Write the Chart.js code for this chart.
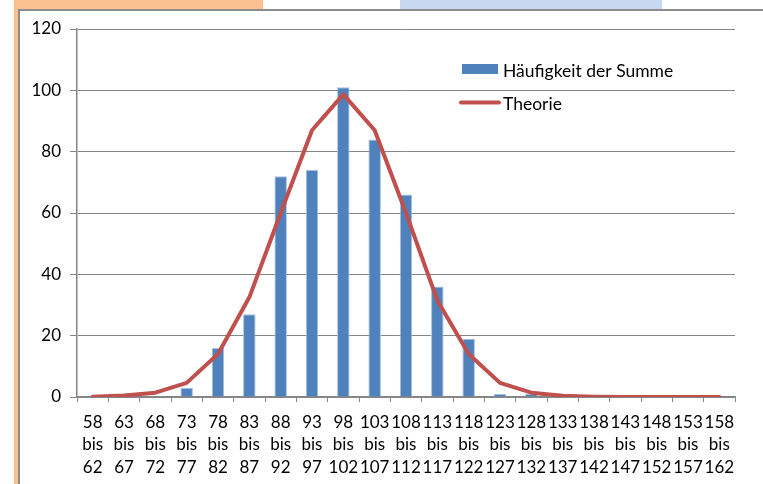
<!DOCTYPE html>
<html>
<head>
<meta charset="utf-8">
<script src="https://cdn.jsdelivr.net/npm/chart.js@4"></script>
<style>
  html, body { margin: 0; padding: 0; background: #ffffff; width: 763px; height: 484px; overflow: hidden; }
  .deco { position: absolute; }
  #chart { position: absolute; left: 0; top: 0; z-index: 2; }
</style>
</head>
<body>
<div class="deco" style="left:14px;top:0;width:249px;height:10px;background:#FAC090;"></div>
<div class="deco" style="left:14px;top:0;width:5px;height:484px;background:#FAC090;"></div>
<div class="deco" style="left:400px;top:0;width:262px;height:10px;background:#C6D9F1;"></div>
<div class="deco" style="left:18px;top:9px;width:745px;height:2px;background:#8C8C8C;"></div>
<div class="deco" style="left:18px;top:9px;width:2px;height:475px;background:#8C8C8C;"></div>
<canvas id="chart" width="763" height="484"></canvas>
<script>
// Class boundaries of the summed values
const lowerBounds = [58, 63, 68, 73, 78, 83, 88, 93, 98, 103, 108, 113, 118, 123, 128, 133, 138, 143, 148, 153, 158];
const upperBounds = [62, 67, 72, 77, 82, 87, 92, 97, 102, 107, 112, 117, 122, 127, 132, 137, 142, 147, 152, 157, 162];

// Observed frequencies per class
const counts = [0, 0, 0, 3, 16, 27, 72, 74, 101, 84, 66, 36, 19, 1, 1, 0, 0, 0, 0, 0, 0];

// Expected frequencies (normal approximation)
const theory = [0.1, 0.5, 1.4, 4.6, 14, 32.5, 60, 87, 98.7, 87, 60, 31.5, 14, 4.6, 1.4, 0.4, 0.1, 0, 0, 0, 0];

// Y axis ticks
const yTicks = [0, 20, 40, 60, 80, 100, 120];

const seriesNames = ['Häufigkeit der Summe', 'Theorie'];

const labels = lowerBounds.map((lo, i) => [String(lo), 'bis', String(upperBounds[i])]);

const FONT = 'Lato, "Open Sans", sans-serif';
const GRID = '#868686';

// Legend drawn inside the plot area, top right
const insideLegend = {
  id: 'insideLegend',
  afterDraw(chart) {
    const ctx = chart.ctx;
    const bar = chart.data.datasets[0];
    const line = chart.data.datasets[1];
    ctx.save();
    ctx.font = '17.5px ' + FONT;
    ctx.textBaseline = 'middle';
    ctx.textAlign = 'left';
    ctx.fillStyle = bar.backgroundColor;
    ctx.fillRect(462, 64, 36, 10);
    ctx.fillStyle = '#000000';
    ctx.fillText(bar.label, 503, 71);
    ctx.strokeStyle = line.borderColor;
    ctx.lineWidth = 4;
    ctx.lineCap = 'round';
    ctx.beginPath();
    ctx.moveTo(461, 102.5);
    ctx.lineTo(499, 102.5);
    ctx.stroke();
    ctx.fillStyle = '#000000';
    ctx.fillText(line.label, 503, 104);
    ctx.restore();
  }
};

new Chart(document.getElementById('chart'), {
  data: {
    labels: labels,
    datasets: [
      {
        type: 'bar',
        label: seriesNames[0],
        data: counts,
        backgroundColor: '#4F81BD',
        borderColor: '#A9C1E0',
        borderWidth: { top: 1, left: 1, right: 1, bottom: 0 },
        barPercentage: 0.4,
        categoryPercentage: 1.0,
        order: 2
      },
      {
        type: 'line',
        label: seriesNames[1],
        data: theory,
        borderColor: '#C0504D',
        backgroundColor: '#C0504D',
        borderWidth: 4,
        pointRadius: 0,
        tension: 0,
        borderCapStyle: 'round',
        borderJoinStyle: 'round',
        order: 1
      }
    ]
  },
  options: {
    responsive: false,
    animation: false,
    devicePixelRatio: 1,
    layout: { padding: { left: 0, top: 29, right: 28, bottom: 0 } },
    plugins: {
      legend: { display: false },
      tooltip: { enabled: false }
    },
    scales: {
      x: {
        offset: true,
        grid: {
          offset: true,
          drawOnChartArea: false,
          drawTicks: true,
          tickLength: 5,
          color: GRID,
          lineWidth: 1
        },
        border: { color: GRID, width: 1.5 },
        ticks: {
          color: '#000000',
          font: { family: FONT, size: 17, lineHeight: 1.32 },
          padding: 9,
          maxRotation: 0,
          autoSkip: false
        },
        afterFit(scale) { scale.height = 87; }
      },
      y: {
        min: 0,
        max: 120,
        afterBuildTicks(scale) { scale.ticks = yTicks.map(v => ({ value: v })); },
        grid: {
          color: GRID,
          lineWidth: 1,
          drawTicks: true,
          tickLength: 7
        },
        border: { color: GRID, width: 1.5 },
        ticks: {
          color: '#000000',
          font: { family: FONT, size: 17 },
          padding: 9
        },
        afterFit(scale) { scale.width = 77; }
      }
    }
  },
  plugins: [insideLegend]
});
</script>
</body>
</html>
